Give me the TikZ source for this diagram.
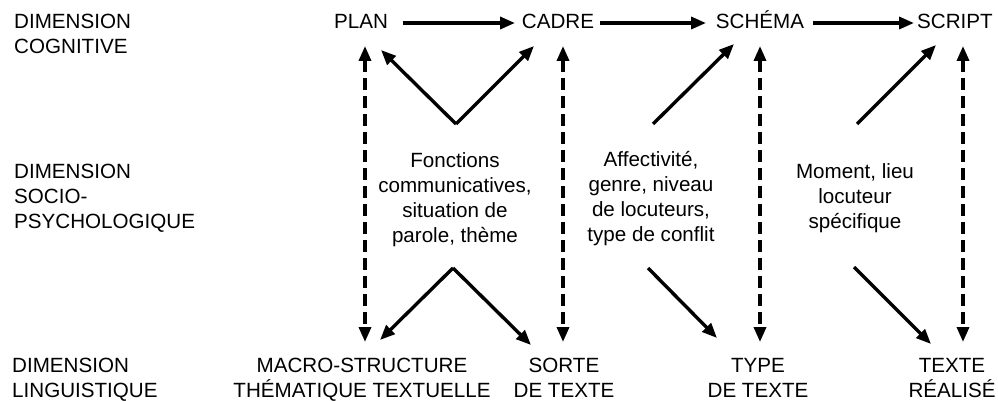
\documentclass[tikz,border=0pt]{standalone}
\usepackage{fontspec}
\setmainfont{Liberation Sans}
\usetikzlibrary{arrows.meta}
\begin{document}
\begin{tikzpicture}[x=1pt,y=-1pt,
  lbl/.style={font=\fontsize{20.6}{25}\selectfont, inner sep=0pt, anchor=base},
  arr/.style={line width=3.4pt, -{Triangle[length=15pt,width=12pt]}},
  darr/.style={line width=3.4pt, dash pattern=on 12pt off 6pt, {Triangle[length=15pt,width=12pt]}-{Triangle[length=15pt,width=12pt]}}]
\useasboundingbox (0,0) rectangle (998,401);
% dimension labels (anchor = baseline of last line)
\node[lbl, anchor=base west, align=left] (dc) at (14,54) {DIMENSION\\COGNITIVE};
\node[lbl, anchor=base west, align=left] (ds) at (14,228) {DIMENSION\\SOCIO-\\PSYCHOLOGIQUE};
\node[lbl, anchor=base west, align=left] (dl) at (12,397) {DIMENSION\\LINGUISTIQUE};
% top row
\node[lbl] (plan) at (361,29) {PLAN};
\node[lbl] (cadre) at (558,29) {CADRE};
\node[lbl] (schema) at (760,29) {SCHÉMA};
\node[lbl] (script) at (955,29) {SCRIPT};
% bottom row
\node[lbl, align=center] (macro) at (362,397) {MACRO-STRUCTURE\\THÉMATIQUE TEXTUELLE};
\node[lbl, align=center] (sorte) at (564,397) {SORTE\\DE TEXTE};
\node[lbl, align=center] (type) at (758,397) {TYPE\\DE TEXTE};
\node[lbl, align=center] (texte) at (952,397) {TEXTE\\RÉALISÉ};
% middle texts
\node[lbl, align=center] (fonc) at (455,242) {Fonctions\\communicatives,\\situation de\\parole, thème};
\node[lbl, align=center] (affe) at (651,241) {Affectivité,\\genre, niveau\\de locuteurs,\\type de conflit};
\node[lbl, align=center] (mome) at (855,228) {Moment, lieu\\locuteur\\spécifique};
% coordinates
\coordinate (h1s) at (403,23); \coordinate (h1e) at (515,23);
\coordinate (h2s) at (600,23); \coordinate (h2e) at (706,23);
\coordinate (h3s) at (813,23); \coordinate (h3e) at (914,23);
\coordinate (v1t) at (365,46); \coordinate (v1b) at (365,342);
\coordinate (v2t) at (563,46); \coordinate (v2b) at (563,342);
\coordinate (v3t) at (760,46); \coordinate (v3b) at (760,342);
\coordinate (v4t) at (963,46); \coordinate (v4b) at (963,342);
\coordinate (vtop) at (456,124); \coordinate (vtl) at (381,50); \coordinate (vtr) at (534,46);
\coordinate (s1) at (653,124); \coordinate (s1e) at (734,44);
\coordinate (c1) at (857,124); \coordinate (c1e) at (936,45);
\coordinate (vbot) at (453,268); \coordinate (vbl) at (380,340); \coordinate (vbr) at (531,345);
\coordinate (s2) at (648,268); \coordinate (s2e) at (717,338);
\coordinate (c2) at (854,267); \coordinate (c2e) at (931,344);
% arrows
\draw[arr] (h1s) -- (h1e);
\draw[arr] (h2s) -- (h2e);
\draw[arr] (h3s) -- (h3e);
\draw[darr] (v1t) -- (v1b);
\draw[darr] (v2t) -- (v2b);
\draw[darr] (v3t) -- (v3b);
\draw[darr] (v4t) -- (v4b);
\draw[arr] (vtop) -- (vtl);
\draw[arr] (vtop) -- (vtr);
\draw[arr] (s1) -- (s1e);
\draw[arr] (c1) -- (c1e);
\draw[arr] (vbot) -- (vbl);
\draw[arr] (vbot) -- (vbr);
\draw[arr] (s2) -- (s2e);
\draw[arr] (c2) -- (c2e);
\end{tikzpicture}
\end{document}
